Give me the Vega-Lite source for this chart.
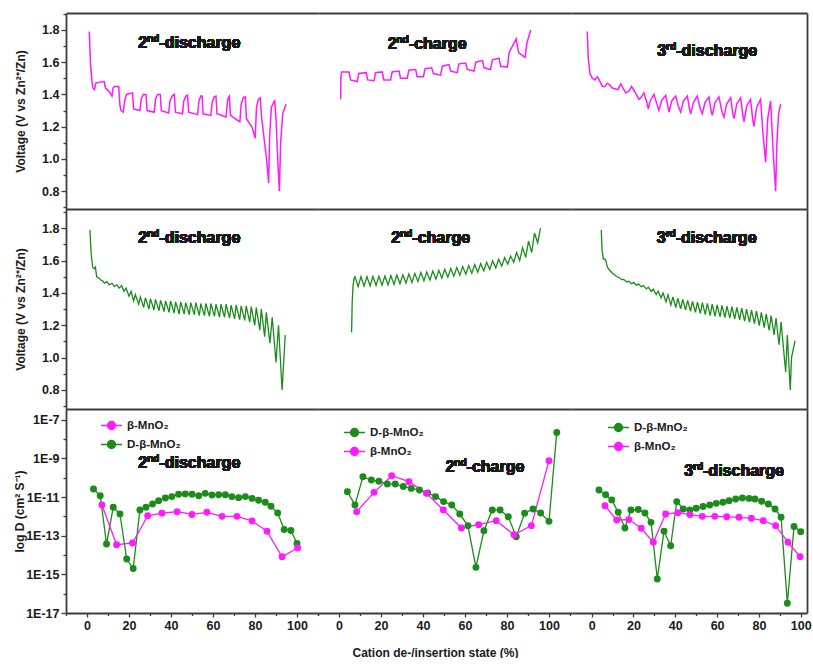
{
"$schema": "https://vega.github.io/schema/vega-lite/v6.json",
"padding": {"left": 13, "top": 13, "right": 0, "bottom": 0},
"config": {
  "view": {"stroke": null},
  "font": "Liberation Sans",
  "axis": {"grid": false, "domainColor": "#3c3c3c", "domainWidth": 1.8, "tickColor": "#3c3c3c", "tickWidth": 1.3, "labelFont": "Liberation Sans", "labelFontSize": 12.5, "labelFontWeight": "bold", "labelColor": "#1a1a1a", "titleFont": "Liberation Sans", "titleFontSize": 12, "titleFontWeight": "bold", "titleColor": "#1a1a1a", "labelOverlap": false},
  "legend": {"labelFont": "Liberation Sans", "labelFontSize": 11.5, "labelFontWeight": "bold", "labelColor": "#1a1a1a"},
  "text": {"font": "Liberation Sans", "fontWeight": "bold", "color": "#1a1a1a", "align": "left", "baseline": "middle", "fontSize": 16}
},
"datasets": {
  "r1c1": [{"x":1.1,"v":1.79},{"x":1.7,"v":1.58},{"x":2.4,"v":1.48},{"x":2.8,"v":1.44},{"x":3.6,"v":1.43},{"x":4.2,"v":1.47},{"x":5.4,"v":1.475},{"x":8.2,"v":1.48},{"x":8.8,"v":1.44},{"x":10.5,"v":1.42},{"x":11.9,"v":1.39},{"x":12.4,"v":1.44},{"x":13.2,"v":1.45},{"x":15.1,"v":1.45},{"x":15.7,"v":1.33},{"x":16.2,"v":1.30},{"x":17.3,"v":1.29},{"x":17.9,"v":1.36},{"x":18.8,"v":1.40},{"x":21.7,"v":1.41},{"x":22.2,"v":1.31},{"x":25.2,"v":1.30},{"x":25.8,"v":1.37},{"x":26.8,"v":1.40},{"x":28.1,"v":1.40},{"x":28.6,"v":1.30},{"x":32.0,"v":1.29},{"x":32.6,"v":1.37},{"x":33.6,"v":1.40},{"x":34.9,"v":1.40},{"x":35.4,"v":1.30},{"x":38.9,"v":1.285},{"x":39.5,"v":1.36},{"x":40.5,"v":1.39},{"x":41.6,"v":1.40},{"x":42.1,"v":1.29},{"x":45.5,"v":1.28},{"x":46.1,"v":1.36},{"x":47.1,"v":1.39},{"x":47.9,"v":1.395},{"x":48.4,"v":1.29},{"x":52.7,"v":1.275},{"x":53.3,"v":1.36},{"x":54.2,"v":1.39},{"x":54.8,"v":1.39},{"x":55.3,"v":1.28},{"x":59.0,"v":1.27},{"x":59.6,"v":1.35},{"x":60.6,"v":1.385},{"x":61.4,"v":1.39},{"x":61.9,"v":1.28},{"x":66.2,"v":1.26},{"x":66.8,"v":1.35},{"x":67.3,"v":1.38},{"x":67.8,"v":1.39},{"x":68.3,"v":1.27},{"x":72.8,"v":1.23},{"x":73.4,"v":1.34},{"x":74.4,"v":1.38},{"x":75.4,"v":1.385},{"x":75.9,"v":1.25},{"x":78.5,"v":1.20},{"x":80.1,"v":1.13},{"x":80.7,"v":1.32},{"x":81.6,"v":1.37},{"x":82.5,"v":1.38},{"x":83.2,"v":1.25},{"x":85.5,"v":1.0},{"x":86.5,"v":0.85},{"x":87.0,"v":1.15},{"x":87.8,"v":1.32},{"x":89.0,"v":1.355},{"x":89.4,"v":1.36},{"x":90.0,"v":1.25},{"x":91.0,"v":0.95},{"x":91.6,"v":0.80},{"x":92.2,"v":1.10},{"x":93.2,"v":1.28},{"x":94.8,"v":1.34}],
  "r1c2": [{"x":0.8,"v":1.37},{"x":0.9,"v":1.50},{"x":1.2,"v":1.54},{"x":4.8,"v":1.54},{"x":5.5,"v":1.49},{"x":8.7,"v":1.48},{"x":9.4,"v":1.53},{"x":13.0,"v":1.535},{"x":13.6,"v":1.49},{"x":16.7,"v":1.485},{"x":17.4,"v":1.535},{"x":20.6,"v":1.54},{"x":21.3,"v":1.49},{"x":24.6,"v":1.49},{"x":25.3,"v":1.54},{"x":28.6,"v":1.545},{"x":29.3,"v":1.50},{"x":32.5,"v":1.50},{"x":33.2,"v":1.55},{"x":36.5,"v":1.555},{"x":37.2,"v":1.51},{"x":40.2,"v":1.51},{"x":41.0,"v":1.56},{"x":44.1,"v":1.565},{"x":45.0,"v":1.53},{"x":48.4,"v":1.52},{"x":49.2,"v":1.575},{"x":52.4,"v":1.585},{"x":53.2,"v":1.545},{"x":56.3,"v":1.535},{"x":57.1,"v":1.59},{"x":60.3,"v":1.595},{"x":61.1,"v":1.555},{"x":64.3,"v":1.545},{"x":65.1,"v":1.60},{"x":68.3,"v":1.61},{"x":69.1,"v":1.565},{"x":72.2,"v":1.555},{"x":73.0,"v":1.615},{"x":76.2,"v":1.625},{"x":77.0,"v":1.575},{"x":80.2,"v":1.57},{"x":81.0,"v":1.66},{"x":84.4,"v":1.745},{"x":85.5,"v":1.66},{"x":88.6,"v":1.63},{"x":89.5,"v":1.72},{"x":91.3,"v":1.80}],
  "r1c3": [{"x":-2.1,"v":1.79},{"x":-1.6,"v":1.62},{"x":-0.8,"v":1.53},{"x":0.3,"v":1.50},{"x":1.5,"v":1.49},{"x":2.7,"v":1.51},{"x":3.6,"v":1.49},{"x":5.1,"v":1.45},{"x":6.3,"v":1.45},{"x":7.5,"v":1.47},{"x":8.6,"v":1.46},{"x":9.9,"v":1.44},{"x":12.6,"v":1.43},{"x":13.9,"v":1.465},{"x":15.0,"v":1.44},{"x":16.3,"v":1.41},{"x":17.8,"v":1.42},{"x":19.1,"v":1.45},{"x":20.5,"v":1.42},{"x":22.6,"v":1.37},{"x":23.6,"v":1.38},{"x":25.0,"v":1.41},{"x":26.2,"v":1.36},{"x":27.1,"v":1.31},{"x":28.0,"v":1.36},{"x":29.8,"v":1.40},{"x":31.2,"v":1.34},{"x":32.2,"v":1.30},{"x":33.4,"v":1.36},{"x":35.4,"v":1.395},{"x":36.4,"v":1.33},{"x":37.0,"v":1.29},{"x":38.3,"v":1.36},{"x":40.2,"v":1.39},{"x":41.6,"v":1.32},{"x":42.6,"v":1.29},{"x":43.9,"v":1.36},{"x":45.8,"v":1.39},{"x":46.8,"v":1.31},{"x":47.4,"v":1.28},{"x":48.7,"v":1.35},{"x":50.5,"v":1.39},{"x":52.0,"v":1.31},{"x":52.9,"v":1.28},{"x":54.2,"v":1.35},{"x":56.1,"v":1.385},{"x":57.1,"v":1.30},{"x":57.7,"v":1.27},{"x":59.0,"v":1.35},{"x":60.9,"v":1.385},{"x":62.4,"v":1.29},{"x":63.3,"v":1.26},{"x":64.6,"v":1.34},{"x":66.5,"v":1.38},{"x":67.5,"v":1.28},{"x":68.1,"v":1.25},{"x":69.4,"v":1.34},{"x":71.3,"v":1.38},{"x":72.3,"v":1.27},{"x":72.9,"v":1.23},{"x":74.2,"v":1.33},{"x":76.0,"v":1.37},{"x":77.0,"v":1.25},{"x":77.6,"v":1.20},{"x":78.9,"v":1.32},{"x":80.8,"v":1.37},{"x":82.0,"v":1.15},{"x":83.2,"v":0.98},{"x":84.2,"v":1.25},{"x":85.6,"v":1.36},{"x":86.8,"v":1.05},{"x":88.0,"v":0.80},{"x":88.6,"v":1.10},{"x":89.4,"v":1.28},{"x":90.4,"v":1.34}],
  "r2c1": [{"x":1.4,"v":1.79},{"x":2.0,"v":1.64},{"x":2.7,"v":1.56},{"x":3.4,"v":1.55},{"x":4.0,"v":1.56},{"x":4.6,"v":1.50},{"x":5.9,"v":1.49},{"x":6.6,"v":1.48},{"x":7.4,"v":1.475},{"x":8.3,"v":1.46},{"x":9.5,"v":1.47},{"x":10.6,"v":1.45},{"x":11.9,"v":1.46},{"x":13.0,"v":1.44},{"x":14.2,"v":1.45},{"x":15.3,"v":1.43},{"x":16.5,"v":1.445},{"x":17.6,"v":1.41},{"x":18.6,"v":1.43},{"x":20.0,"v":1.38},{"x":21.0,"v":1.41},{"x":22.2,"v":1.35},{"x":23.0,"v":1.39},{"x":24.6,"v":1.33},{"x":25.4,"v":1.375},{"x":27.0,"v":1.31},{"x":27.8,"v":1.37},{"x":29.5,"v":1.30},{"x":30.2,"v":1.365},{"x":31.9,"v":1.295},{"x":32.6,"v":1.36},{"x":34.3,"v":1.29},{"x":35.0,"v":1.355},{"x":36.7,"v":1.285},{"x":37.4,"v":1.35},{"x":39.1,"v":1.28},{"x":39.8,"v":1.35},{"x":41.5,"v":1.275},{"x":42.2,"v":1.345},{"x":43.9,"v":1.27},{"x":44.6,"v":1.345},{"x":46.3,"v":1.27},{"x":47.0,"v":1.34},{"x":48.7,"v":1.265},{"x":49.4,"v":1.34},{"x":51.1,"v":1.265},{"x":51.8,"v":1.34},{"x":53.5,"v":1.26},{"x":54.2,"v":1.335},{"x":55.9,"v":1.26},{"x":56.6,"v":1.335},{"x":58.3,"v":1.255},{"x":59.0,"v":1.335},{"x":60.7,"v":1.255},{"x":61.4,"v":1.33},{"x":63.1,"v":1.25},{"x":63.8,"v":1.33},{"x":65.5,"v":1.25},{"x":66.2,"v":1.33},{"x":67.9,"v":1.245},{"x":68.6,"v":1.325},{"x":70.3,"v":1.24},{"x":71.0,"v":1.325},{"x":72.7,"v":1.235},{"x":73.4,"v":1.32},{"x":75.1,"v":1.23},{"x":75.8,"v":1.32},{"x":77.5,"v":1.22},{"x":78.2,"v":1.315},{"x":79.9,"v":1.20},{"x":80.6,"v":1.31},{"x":82.3,"v":1.17},{"x":83.0,"v":1.30},{"x":84.6,"v":1.13},{"x":85.4,"v":1.28},{"x":87.1,"v":1.09},{"x":88.2,"v":1.25},{"x":90.0,"v":0.97},{"x":91.2,"v":1.20},{"x":92.9,"v":0.80},{"x":94.4,"v":1.14}],
  "r2c2": [{"x":6.0,"v":1.157},{"x":6.3,"v":1.35},{"x":6.7,"v":1.445},{"x":7.1,"v":1.485},{"x":7.6,"v":1.500},{"x":9.1,"v":1.440},{"x":10.45,"v":1.500},{"x":11.95,"v":1.442},{"x":13.3,"v":1.501},{"x":14.8,"v":1.444},{"x":16.15,"v":1.502},{"x":17.65,"v":1.446},{"x":19.0,"v":1.503},{"x":20.5,"v":1.448},{"x":21.85,"v":1.505},{"x":23.35,"v":1.450},{"x":24.7,"v":1.507},{"x":26.2,"v":1.453},{"x":27.55,"v":1.510},{"x":29.05,"v":1.457},{"x":30.4,"v":1.513},{"x":31.9,"v":1.461},{"x":33.25,"v":1.517},{"x":34.75,"v":1.465},{"x":36.1,"v":1.521},{"x":37.6,"v":1.470},{"x":38.95,"v":1.526},{"x":40.45,"v":1.475},{"x":41.8,"v":1.530},{"x":43.3,"v":1.480},{"x":44.65,"v":1.535},{"x":46.15,"v":1.486},{"x":47.5,"v":1.540},{"x":49.0,"v":1.492},{"x":50.35,"v":1.546},{"x":51.85,"v":1.498},{"x":53.2,"v":1.551},{"x":54.7,"v":1.504},{"x":56.05,"v":1.557},{"x":57.55,"v":1.510},{"x":58.9,"v":1.563},{"x":60.4,"v":1.516},{"x":61.75,"v":1.569},{"x":63.25,"v":1.522},{"x":64.6,"v":1.575},{"x":66.1,"v":1.528},{"x":67.45,"v":1.582},{"x":68.95,"v":1.536},{"x":70.3,"v":1.590},{"x":71.8,"v":1.545},{"x":73.15,"v":1.599},{"x":74.65,"v":1.555},{"x":76.0,"v":1.608},{"x":77.5,"v":1.566},{"x":78.85,"v":1.618},{"x":80.35,"v":1.578},{"x":81.7,"v":1.628},{"x":83.2,"v":1.590},{"x":84.55,"v":1.650},{"x":86.05,"v":1.600},{"x":87.4,"v":1.680},{"x":88.9,"v":1.620},{"x":90.25,"v":1.720},{"x":91.75,"v":1.650},{"x":93.1,"v":1.770},{"x":94.6,"v":1.710},{"x":95.95,"v":1.800}],
  "r2c3": [{"x":4.6,"v":1.79},{"x":5.0,"v":1.66},{"x":5.6,"v":1.61},{"x":6.2,"v":1.61},{"x":6.8,"v":1.60},{"x":7.5,"v":1.56},{"x":8.3,"v":1.545},{"x":9.7,"v":1.525},{"x":10.65,"v":1.515},{"x":12.05,"v":1.500},{"x":13.0,"v":1.497},{"x":14.4,"v":1.482},{"x":15.35,"v":1.483},{"x":16.75,"v":1.468},{"x":17.7,"v":1.473},{"x":19.1,"v":1.457},{"x":20.05,"v":1.465},{"x":21.45,"v":1.448},{"x":22.4,"v":1.455},{"x":23.8,"v":1.438},{"x":24.75,"v":1.446},{"x":26.15,"v":1.425},{"x":27.1,"v":1.436},{"x":28.5,"v":1.410},{"x":29.45,"v":1.424},{"x":30.85,"v":1.390},{"x":31.8,"v":1.411},{"x":33.2,"v":1.370},{"x":34.15,"v":1.400},{"x":35.55,"v":1.345},{"x":36.5,"v":1.388},{"x":37.9,"v":1.325},{"x":38.85,"v":1.376},{"x":40.25,"v":1.310},{"x":41.2,"v":1.367},{"x":42.6,"v":1.302},{"x":43.55,"v":1.360},{"x":44.95,"v":1.294},{"x":45.9,"v":1.354},{"x":47.3,"v":1.287},{"x":48.25,"v":1.348},{"x":49.65,"v":1.280},{"x":50.6,"v":1.343},{"x":52.0,"v":1.273},{"x":52.95,"v":1.340},{"x":54.35,"v":1.266},{"x":55.3,"v":1.336},{"x":56.7,"v":1.260},{"x":57.65,"v":1.331},{"x":59.05,"v":1.256},{"x":60.0,"v":1.327},{"x":61.4,"v":1.252},{"x":62.35,"v":1.323},{"x":63.75,"v":1.248},{"x":64.7,"v":1.319},{"x":66.1,"v":1.244},{"x":67.05,"v":1.315},{"x":68.45,"v":1.239},{"x":69.4,"v":1.311},{"x":70.8,"v":1.234},{"x":71.75,"v":1.306},{"x":73.15,"v":1.226},{"x":74.1,"v":1.300},{"x":75.5,"v":1.218},{"x":76.45,"v":1.294},{"x":77.85,"v":1.210},{"x":78.8,"v":1.288},{"x":80.2,"v":1.198},{"x":81.15,"v":1.280},{"x":82.55,"v":1.185},{"x":83.5,"v":1.271},{"x":84.9,"v":1.168},{"x":85.85,"v":1.260},{"x":87.25,"v":1.140},{"x":88.2,"v":1.245},{"x":89.6,"v":1.080},{"x":90.6,"v":1.22},{"x":92.8,"v":0.91},{"x":93.6,"v":1.14},{"x":95.0,"v":0.80},{"x":95.6,"v":1.00},{"x":97.3,"v":1.105}],
  "r3c1": [{"x":3.1,"D":2.6e-11,"s":"D-β-MnO₂"},{"x":6.3,"D":1.17e-11,"s":"D-β-MnO₂"},{"x":9.3,"D":3.7e-14,"s":"D-β-MnO₂"},{"x":12.5,"D":2.95e-12,"s":"D-β-MnO₂"},{"x":15.7,"D":1.32e-12,"s":"D-β-MnO₂"},{"x":18.9,"D":6.2e-15,"s":"D-β-MnO₂"},{"x":22.0,"D":2.0e-15,"s":"D-β-MnO₂"},{"x":25.2,"D":2.14e-12,"s":"D-β-MnO₂"},{"x":28.1,"D":2.95e-12,"s":"D-β-MnO₂"},{"x":31.2,"D":4.4e-12,"s":"D-β-MnO₂"},{"x":34.1,"D":6.5e-12,"s":"D-β-MnO₂"},{"x":37.3,"D":8.9e-12,"s":"D-β-MnO₂"},{"x":40.4,"D":1.05e-11,"s":"D-β-MnO₂"},{"x":43.6,"D":1.38e-11,"s":"D-β-MnO₂"},{"x":46.8,"D":1.45e-11,"s":"D-β-MnO₂"},{"x":50.0,"D":1.38e-11,"s":"D-β-MnO₂"},{"x":53.2,"D":1.17e-11,"s":"D-β-MnO₂"},{"x":56.3,"D":1.55e-11,"s":"D-β-MnO₂"},{"x":59.5,"D":1.26e-11,"s":"D-β-MnO₂"},{"x":62.7,"D":1.32e-11,"s":"D-β-MnO₂"},{"x":65.9,"D":1.32e-11,"s":"D-β-MnO₂"},{"x":69.0,"D":1.05e-11,"s":"D-β-MnO₂"},{"x":72.2,"D":9.3e-12,"s":"D-β-MnO₂"},{"x":75.4,"D":1.05e-11,"s":"D-β-MnO₂"},{"x":78.6,"D":8.5e-12,"s":"D-β-MnO₂"},{"x":81.7,"D":6.8e-12,"s":"D-β-MnO₂"},{"x":84.9,"D":5.4e-12,"s":"D-β-MnO₂"},{"x":87.6,"D":3.3e-12,"s":"D-β-MnO₂"},{"x":90.8,"D":1.51e-12,"s":"D-β-MnO₂"},{"x":93.9,"D":2.1e-13,"s":"D-β-MnO₂"},{"x":97.1,"D":1.86e-13,"s":"D-β-MnO₂"},{"x":100.0,"D":3.9e-14,"s":"D-β-MnO₂"},
    {"x":7.1,"D":3.9e-12,"s":"β-MnO₂"},{"x":14.1,"D":3.4e-14,"s":"β-MnO₂"},{"x":21.7,"D":4.2e-14,"s":"β-MnO₂"},{"x":28.9,"D":1.07e-12,"s":"β-MnO₂"},{"x":35.7,"D":1.45e-12,"s":"β-MnO₂"},{"x":42.9,"D":1.74e-12,"s":"β-MnO₂"},{"x":50.0,"D":1.26e-12,"s":"β-MnO₂"},{"x":57.1,"D":1.62e-12,"s":"β-MnO₂"},{"x":64.3,"D":1.0e-12,"s":"β-MnO₂"},{"x":71.4,"D":1.0e-12,"s":"β-MnO₂"},{"x":78.6,"D":5.8e-13,"s":"β-MnO₂"},{"x":85.7,"D":1.7e-13,"s":"β-MnO₂"},{"x":92.9,"D":8.1e-15,"s":"β-MnO₂"},{"x":100.3,"D":2.3e-14,"s":"β-MnO₂"}],
  "r3c2": [{"x":4.0,"D":1.9e-11,"s":"D-β-MnO₂"},{"x":7.6,"D":3.9e-12,"s":"D-β-MnO₂"},{"x":11.4,"D":1.12e-10,"s":"D-β-MnO₂"},{"x":15.4,"D":7.6e-11,"s":"D-β-MnO₂"},{"x":19.0,"D":6.5e-11,"s":"D-β-MnO₂"},{"x":23.0,"D":4.7e-11,"s":"D-β-MnO₂"},{"x":26.8,"D":4.7e-11,"s":"D-β-MnO₂"},{"x":30.6,"D":3.5e-11,"s":"D-β-MnO₂"},{"x":34.4,"D":2.8e-11,"s":"D-β-MnO₂"},{"x":38.3,"D":2.3e-11,"s":"D-β-MnO₂"},{"x":42.2,"D":1.62e-11,"s":"D-β-MnO₂"},{"x":46.0,"D":1.05e-11,"s":"D-β-MnO₂"},{"x":49.8,"D":5.8e-12,"s":"D-β-MnO₂"},{"x":53.7,"D":3.9e-12,"s":"D-β-MnO₂"},{"x":57.5,"D":1.32e-12,"s":"D-β-MnO₂"},{"x":61.4,"D":3.3e-13,"s":"D-β-MnO₂"},{"x":65.2,"D":2.3e-15,"s":"D-β-MnO₂"},{"x":69.0,"D":1.8e-13,"s":"D-β-MnO₂"},{"x":73.0,"D":2.14e-12,"s":"D-β-MnO₂"},{"x":76.7,"D":2.14e-12,"s":"D-β-MnO₂"},{"x":80.6,"D":9.5e-13,"s":"D-β-MnO₂"},{"x":84.4,"D":8.9e-14,"s":"D-β-MnO₂"},{"x":88.4,"D":1.45e-12,"s":"D-β-MnO₂"},{"x":92.4,"D":2.4e-12,"s":"D-β-MnO₂"},{"x":96.0,"D":1.48e-12,"s":"D-β-MnO₂"},{"x":100.0,"D":5.5e-13,"s":"D-β-MnO₂"},{"x":103.7,"D":2.2e-8,"s":"D-β-MnO₂"},
    {"x":8.4,"D":1.74e-12,"s":"β-MnO₂"},{"x":16.7,"D":1.74e-11,"s":"β-MnO₂"},{"x":25.1,"D":1.26e-10,"s":"β-MnO₂"},{"x":33.3,"D":6.2e-11,"s":"β-MnO₂"},{"x":41.6,"D":1.55e-11,"s":"β-MnO₂"},{"x":49.7,"D":2.14e-12,"s":"β-MnO₂"},{"x":58.3,"D":2.5e-13,"s":"β-MnO₂"},{"x":66.5,"D":3.7e-13,"s":"β-MnO₂"},{"x":74.9,"D":6.0e-13,"s":"β-MnO₂"},{"x":83.3,"D":1.12e-13,"s":"β-MnO₂"},{"x":91.6,"D":3.3e-13,"s":"β-MnO₂"},{"x":100.0,"D":7.6e-10,"s":"β-MnO₂"}],
  "r3c3": [{"x":3.5,"D":2.3e-11,"s":"D-β-MnO₂"},{"x":6.7,"D":1.32e-11,"s":"D-β-MnO₂"},{"x":9.6,"D":7.1e-12,"s":"D-β-MnO₂"},{"x":12.7,"D":1.62e-12,"s":"D-β-MnO₂"},{"x":15.9,"D":2.5e-13,"s":"D-β-MnO₂"},{"x":18.8,"D":2.14e-12,"s":"D-β-MnO₂"},{"x":22.3,"D":2.24e-12,"s":"D-β-MnO₂"},{"x":25.5,"D":1.48e-12,"s":"D-β-MnO₂"},{"x":28.4,"D":4.9e-13,"s":"D-β-MnO₂"},{"x":31.4,"D":5.8e-16,"s":"D-β-MnO₂"},{"x":34.6,"D":1.7e-13,"s":"D-β-MnO₂"},{"x":37.8,"D":3.0e-14,"s":"D-β-MnO₂"},{"x":40.7,"D":5.8e-12,"s":"D-β-MnO₂"},{"x":43.8,"D":2.4e-12,"s":"D-β-MnO₂"},{"x":47.0,"D":2.14e-12,"s":"D-β-MnO₂"},{"x":50.0,"D":2.6e-12,"s":"D-β-MnO₂"},{"x":53.3,"D":3.2e-12,"s":"D-β-MnO₂"},{"x":56.5,"D":3.9e-12,"s":"D-β-MnO₂"},{"x":59.6,"D":4.7e-12,"s":"D-β-MnO₂"},{"x":62.8,"D":5.4e-12,"s":"D-β-MnO₂"},{"x":65.7,"D":6.5e-12,"s":"D-β-MnO₂"},{"x":68.9,"D":7.9e-12,"s":"D-β-MnO₂"},{"x":72.1,"D":8.9e-12,"s":"D-β-MnO₂"},{"x":75.3,"D":8.5e-12,"s":"D-β-MnO₂"},{"x":78.1,"D":7.9e-12,"s":"D-β-MnO₂"},{"x":81.3,"D":6.0e-12,"s":"D-β-MnO₂"},{"x":84.5,"D":4.4e-12,"s":"D-β-MnO₂"},{"x":87.7,"D":2.4e-12,"s":"D-β-MnO₂"},{"x":90.6,"D":8.9e-13,"s":"D-β-MnO₂"},{"x":93.6,"D":3.2e-17,"s":"D-β-MnO₂"},{"x":96.8,"D":3.0e-13,"s":"D-β-MnO₂"},{"x":100.0,"D":1.62e-13,"s":"D-β-MnO₂"},
    {"x":6.4,"D":3.5e-12,"s":"β-MnO₂"},{"x":12.0,"D":6.5e-13,"s":"β-MnO₂"},{"x":17.8,"D":6.8e-13,"s":"β-MnO₂"},{"x":23.7,"D":2.4e-13,"s":"β-MnO₂"},{"x":29.5,"D":4.6e-14,"s":"β-MnO₂"},{"x":35.4,"D":1.32e-12,"s":"β-MnO₂"},{"x":41.3,"D":1.55e-12,"s":"β-MnO₂"},{"x":47.0,"D":1.23e-12,"s":"β-MnO₂"},{"x":52.9,"D":1.0e-12,"s":"β-MnO₂"},{"x":58.9,"D":1.0e-12,"s":"β-MnO₂"},{"x":64.6,"D":9.5e-13,"s":"β-MnO₂"},{"x":70.5,"D":8.9e-13,"s":"β-MnO₂"},{"x":76.4,"D":7.9e-13,"s":"β-MnO₂"},{"x":82.1,"D":6.0e-13,"s":"β-MnO₂"},{"x":88.0,"D":3.3e-13,"s":"β-MnO₂"},{"x":93.9,"D":4.6e-14,"s":"β-MnO₂"},{"x":99.7,"D":8.1e-15,"s":"β-MnO₂"}]
},
"columns": 3,
"spacing": 0,
"align": "each",
"bounds": "flush",
"resolve": {"scale": {"x": "independent", "y": "independent", "color": "independent"}, "axis": {"x": "independent", "y": "independent"}, "legend": {"color": "independent"}},
"concat": [
  {"width": 252, "height": 196, "data": {"name": "r1c1"},
   "layer": [
     {"mark": {"type": "line", "color": "#ff1aff", "strokeWidth": 1.5},
      "encoding": {
        "x": {"field": "x", "type": "quantitative", "scale": {"domain": [-10, 110], "nice": false, "zero": false}, "axis": {"orient": "bottom", "labels": false, "ticks": false, "title": null}},
        "y": {"field": "v", "type": "quantitative", "scale": {"domain": [0.69, 1.905], "nice": false, "zero": false}, "axis": {"orient": "left", "values": [0.8, 1.0, 1.2, 1.4, 1.6, 1.8], "format": ".1f", "tickSize": 5, "labelPadding": 2, "title": "Voltage (V vs Zn²⁺/Zn)", "titlePadding": 14}}}},
     {"mark": {"type": "point", "opacity": 0},
      "encoding": {
        "x": {"field": "x", "type": "quantitative", "axis": {"orient": "top", "labels": false, "ticks": false, "title": null}},
        "y": {"field": "v", "type": "quantitative", "axis": {"orient": "left", "values": [0.7, 0.9, 1.1, 1.3, 1.5, 1.7, 1.9], "labels": false, "domain": false, "tickSize": 3, "title": null}}}},
     {"mark": {"type": "text", "dx": -51}, "encoding": {"x": {"datum": 48.7, "axis": null}, "y": {"datum": 1.72, "axis": null}, "text": {"value": "2"}}},
     {"mark": {"type": "text", "dx": -42.1, "dy": -4, "fontSize": 10}, "encoding": {"x": {"datum": 48.7, "axis": null}, "y": {"datum": 1.72, "axis": null}, "text": {"value": "nd"}}},
     {"mark": {"type": "text", "dx": -29.9}, "encoding": {"x": {"datum": 48.7, "axis": null}, "y": {"datum": 1.72, "axis": null}, "text": {"value": "-discharge"}}}
   ],
   "resolve": {"axis": {"x": "independent", "y": "independent"}}},
  {"width": 254, "height": 196, "data": {"name": "r1c2"},
   "layer": [
     {"mark": {"type": "line", "color": "#ff1aff", "strokeWidth": 1.5},
      "encoding": {
        "x": {"field": "x", "type": "quantitative", "scale": {"domain": [-10, 110.95], "nice": false, "zero": false}, "axis": {"orient": "bottom", "labels": false, "ticks": false, "title": null}},
        "y": {"field": "v", "type": "quantitative", "scale": {"domain": [0.69, 1.905], "nice": false, "zero": false}, "axis": null}}},
     {"mark": {"type": "point", "opacity": 0},
      "encoding": {
        "x": {"field": "x", "type": "quantitative", "axis": {"orient": "top", "labels": false, "ticks": false, "title": null}},
        "y": {"field": "v", "type": "quantitative", "axis": null}}},
     {"mark": {"type": "text", "dx": -39.5}, "encoding": {"x": {"datum": 42, "axis": null}, "y": {"datum": 1.71, "axis": null}, "text": {"value": "2"}}},
     {"mark": {"type": "text", "dx": -30.6, "dy": -4, "fontSize": 10}, "encoding": {"x": {"datum": 42, "axis": null}, "y": {"datum": 1.71, "axis": null}, "text": {"value": "nd"}}},
     {"mark": {"type": "text", "dx": -18.4}, "encoding": {"x": {"datum": 42, "axis": null}, "y": {"datum": 1.71, "axis": null}, "text": {"value": "-charge"}}}
   ],
   "resolve": {"axis": {"x": "independent", "y": "independent"}}},
  {"width": 235, "height": 196, "data": {"name": "r1c3"},
   "layer": [
     {"mark": {"type": "line", "color": "#ff1aff", "strokeWidth": 1.5},
      "encoding": {
        "x": {"field": "x", "type": "quantitative", "scale": {"domain": [-9.4, 103], "nice": false, "zero": false}, "axis": {"orient": "bottom", "labels": false, "ticks": false, "title": null}},
        "y": {"field": "v", "type": "quantitative", "scale": {"domain": [0.69, 1.905], "nice": false, "zero": false}, "axis": {"orient": "right", "labels": false, "ticks": false, "title": null}}}},
     {"mark": {"type": "point", "opacity": 0},
      "encoding": {
        "x": {"field": "x", "type": "quantitative", "axis": {"orient": "top", "labels": false, "ticks": false, "title": null}},
        "y": {"field": "v", "type": "quantitative", "axis": null}}},
     {"mark": {"type": "text", "dx": -49.9}, "encoding": {"x": {"datum": 55.3, "axis": null}, "y": {"datum": 1.67, "axis": null}, "text": {"value": "3"}}},
     {"mark": {"type": "text", "dx": -41.0, "dy": -4, "fontSize": 10}, "encoding": {"x": {"datum": 55.3, "axis": null}, "y": {"datum": 1.67, "axis": null}, "text": {"value": "rd"}}},
     {"mark": {"type": "text", "dx": -31.0}, "encoding": {"x": {"datum": 55.3, "axis": null}, "y": {"datum": 1.67, "axis": null}, "text": {"value": "-discharge"}}}
   ],
   "resolve": {"axis": {"x": "independent", "y": "independent"}}},
  {"width": 252, "height": 200, "data": {"name": "r2c1"},
   "layer": [
     {"mark": {"type": "line", "color": "#1a8c1a", "strokeWidth": 1.3},
      "encoding": {
        "x": {"field": "x", "type": "quantitative", "scale": {"domain": [-10, 110], "nice": false, "zero": false}, "axis": {"orient": "bottom", "labels": false, "ticks": false, "title": null}},
        "y": {"field": "v", "type": "quantitative", "scale": {"domain": [0.6825, 1.919], "nice": false, "zero": false}, "axis": {"orient": "left", "values": [0.8, 1.0, 1.2, 1.4, 1.6, 1.8], "format": ".1f", "tickSize": 5, "labelPadding": 2, "title": "Voltage (V vs Zn²⁺/Zn)", "titlePadding": 14}}}},
     {"mark": {"type": "point", "opacity": 0},
      "encoding": {
        "x": {"field": "x", "type": "quantitative", "axis": null},
        "y": {"field": "v", "type": "quantitative", "axis": {"orient": "left", "values": [0.7, 0.9, 1.1, 1.3, 1.5, 1.7, 1.9], "labels": false, "domain": false, "tickSize": 3, "title": null}}}},
     {"mark": {"type": "text", "dx": -51}, "encoding": {"x": {"datum": 48.7, "axis": null}, "y": {"datum": 1.74, "axis": null}, "text": {"value": "2"}}},
     {"mark": {"type": "text", "dx": -42.1, "dy": -4, "fontSize": 10}, "encoding": {"x": {"datum": 48.7, "axis": null}, "y": {"datum": 1.74, "axis": null}, "text": {"value": "nd"}}},
     {"mark": {"type": "text", "dx": -29.9}, "encoding": {"x": {"datum": 48.7, "axis": null}, "y": {"datum": 1.74, "axis": null}, "text": {"value": "-discharge"}}}
   ],
   "resolve": {"axis": {"x": "independent", "y": "independent"}}},
  {"width": 254, "height": 200, "data": {"name": "r2c2"},
   "layer": [
     {"mark": {"type": "line", "color": "#1a8c1a", "strokeWidth": 1.3},
      "encoding": {
        "x": {"field": "x", "type": "quantitative", "scale": {"domain": [-10, 110.95], "nice": false, "zero": false}, "axis": {"orient": "bottom", "labels": false, "ticks": false, "title": null}},
        "y": {"field": "v", "type": "quantitative", "scale": {"domain": [0.6825, 1.919], "nice": false, "zero": false}, "axis": null}}},
     {"mark": {"type": "text", "dx": -39.5}, "encoding": {"x": {"datum": 43.7, "axis": null}, "y": {"datum": 1.74, "axis": null}, "text": {"value": "2"}}},
     {"mark": {"type": "text", "dx": -30.6, "dy": -4, "fontSize": 10}, "encoding": {"x": {"datum": 43.7, "axis": null}, "y": {"datum": 1.74, "axis": null}, "text": {"value": "nd"}}},
     {"mark": {"type": "text", "dx": -18.4}, "encoding": {"x": {"datum": 43.7, "axis": null}, "y": {"datum": 1.74, "axis": null}, "text": {"value": "-charge"}}}
   ],
   "resolve": {"axis": {"x": "independent", "y": "independent"}}},
  {"width": 235, "height": 200, "data": {"name": "r2c3"},
   "layer": [
     {"mark": {"type": "line", "color": "#1a8c1a", "strokeWidth": 1.3},
      "encoding": {
        "x": {"field": "x", "type": "quantitative", "scale": {"domain": [-9.4, 103], "nice": false, "zero": false}, "axis": {"orient": "bottom", "labels": false, "ticks": false, "title": null}},
        "y": {"field": "v", "type": "quantitative", "scale": {"domain": [0.6825, 1.919], "nice": false, "zero": false}, "axis": {"orient": "right", "labels": false, "ticks": false, "title": null}}}},
     {"mark": {"type": "text", "dx": -49.9}, "encoding": {"x": {"datum": 55, "axis": null}, "y": {"datum": 1.74, "axis": null}, "text": {"value": "3"}}},
     {"mark": {"type": "text", "dx": -41.0, "dy": -4, "fontSize": 10}, "encoding": {"x": {"datum": 55, "axis": null}, "y": {"datum": 1.74, "axis": null}, "text": {"value": "rd"}}},
     {"mark": {"type": "text", "dx": -31.0}, "encoding": {"x": {"datum": 55, "axis": null}, "y": {"datum": 1.74, "axis": null}, "text": {"value": "-discharge"}}}
   ],
   "resolve": {"axis": {"x": "independent", "y": "independent"}}},
  {"width": 252, "height": 204, "data": {"name": "r3c1"},
   "layer": [
     {"mark": {"type": "line", "strokeWidth": 1.3},
      "encoding": {
        "x": {"field": "x", "type": "quantitative", "scale": {"domain": [-10, 110], "nice": false, "zero": false}, "axis": {"orient": "bottom", "values": [0, 20, 40, 60, 80, 100], "tickSize": 4, "labelPadding": 2, "title": null}},
        "y": {"field": "D", "type": "quantitative", "scale": {"type": "log", "domain": [1e-17, 3.58e-7], "nice": false}, "axis": {"orient": "left", "values": [1e-17, 1e-15, 1e-13, 1e-11, 1e-9, 1e-7], "labelExpr": "'1E' + round(log(datum.value)/LN10)", "tickSize": 5, "labelPadding": 2, "title": "log D (cm² S⁻¹)", "titlePadding": -1}},
        "color": {"field": "s", "type": "nominal", "scale": {"domain": ["β-MnO₂", "D-β-MnO₂"], "range": ["#ff1aff", "#1a8c1a"]},
          "legend": {"title": null, "orient": "none", "legendX": 34, "legendY": 5, "symbolType": "M-1,0L1,0M-0.38,0A0.38,0.38,0,1,1,0.38,0A0.38,0.38,0,1,1,-0.38,0", "symbolSize": 441, "symbolStrokeWidth": 1.4, "labelOffset": 4, "rowPadding": 0, "padding": 0}}}},
     {"mark": {"type": "point", "filled": true, "size": 48, "opacity": 1},
      "encoding": {
        "x": {"field": "x", "type": "quantitative", "axis": null},
        "y": {"field": "D", "type": "quantitative", "axis": null},
        "color": {"field": "s", "type": "nominal",
          "legend": {"title": null, "orient": "none", "legendX": 34, "legendY": 5, "symbolType": "M-1,0L1,0M-0.38,0A0.38,0.38,0,1,1,0.38,0A0.38,0.38,0,1,1,-0.38,0", "symbolSize": 441, "symbolStrokeWidth": 1.4, "labelOffset": 4, "rowPadding": 0, "padding": 0}}}},
     {"mark": {"type": "point", "opacity": 0},
      "encoding": {
        "x": {"field": "x", "type": "quantitative", "axis": {"orient": "bottom", "values": [-10, 10, 30, 50, 70, 90, 110], "labels": false, "domain": false, "tickSize": 2.5, "title": null}},
        "y": {"field": "D", "type": "quantitative", "axis": {"orient": "left", "values": [1e-16, 1e-14, 1e-12, 1e-10, 1e-8], "labels": false, "domain": false, "tickSize": 3, "title": null}}}},
     {"mark": {"type": "text", "dx": -51}, "encoding": {"x": {"datum": 48.7, "axis": null}, "y": {"datum": 5.7e-10, "axis": null}, "text": {"value": "2"}}},
     {"mark": {"type": "text", "dx": -42.1, "dy": -4, "fontSize": 10}, "encoding": {"x": {"datum": 48.7, "axis": null}, "y": {"datum": 5.7e-10, "axis": null}, "text": {"value": "nd"}}},
     {"mark": {"type": "text", "dx": -29.9}, "encoding": {"x": {"datum": 48.7, "axis": null}, "y": {"datum": 5.7e-10, "axis": null}, "text": {"value": "-discharge"}}}
   ],
   "resolve": {"axis": {"x": "independent", "y": "independent"}}},
  {"width": 254, "height": 204, "data": {"name": "r3c2"},
   "layer": [
     {"mark": {"type": "line", "strokeWidth": 1.3},
      "encoding": {
        "x": {"field": "x", "type": "quantitative", "scale": {"domain": [-10, 110.95], "nice": false, "zero": false}, "axis": {"orient": "bottom", "values": [0, 20, 40, 60, 80, 100], "tickSize": 4, "labelPadding": 2, "title": "Cation de-/insertion state (%)", "titleX": 117, "titleY": 34}},
        "y": {"field": "D", "type": "quantitative", "scale": {"type": "log", "domain": [1e-17, 3.58e-7], "nice": false}, "axis": null},
        "color": {"field": "s", "type": "nominal", "scale": {"domain": ["D-β-MnO₂", "β-MnO₂"], "range": ["#1a8c1a", "#ff1aff"]},
          "legend": {"title": null, "orient": "none", "legendX": 25, "legendY": 12, "symbolType": "M-1,0L1,0M-0.38,0A0.38,0.38,0,1,1,0.38,0A0.38,0.38,0,1,1,-0.38,0", "symbolSize": 441, "symbolStrokeWidth": 1.4, "labelOffset": 4, "rowPadding": 0, "padding": 0}}}},
     {"mark": {"type": "point", "filled": true, "size": 48, "opacity": 1},
      "encoding": {
        "x": {"field": "x", "type": "quantitative", "axis": null},
        "y": {"field": "D", "type": "quantitative", "axis": null},
        "color": {"field": "s", "type": "nominal",
          "legend": {"title": null, "orient": "none", "legendX": 25, "legendY": 12, "symbolType": "M-1,0L1,0M-0.38,0A0.38,0.38,0,1,1,0.38,0A0.38,0.38,0,1,1,-0.38,0", "symbolSize": 441, "symbolStrokeWidth": 1.4, "labelOffset": 4, "rowPadding": 0, "padding": 0}}}},
     {"mark": {"type": "point", "opacity": 0},
      "encoding": {
        "x": {"field": "x", "type": "quantitative", "axis": {"orient": "bottom", "values": [-10, 10, 30, 50, 70, 90, 110], "labels": false, "domain": false, "tickSize": 2.5, "title": null}},
        "y": {"field": "D", "type": "quantitative", "axis": null}}},
     {"mark": {"type": "text", "dx": -39.5}, "encoding": {"x": {"datum": 69.5, "axis": null}, "y": {"datum": 3.5e-10, "axis": null}, "text": {"value": "2"}}},
     {"mark": {"type": "text", "dx": -30.6, "dy": -4, "fontSize": 10}, "encoding": {"x": {"datum": 69.5, "axis": null}, "y": {"datum": 3.5e-10, "axis": null}, "text": {"value": "nd"}}},
     {"mark": {"type": "text", "dx": -18.4}, "encoding": {"x": {"datum": 69.5, "axis": null}, "y": {"datum": 3.5e-10, "axis": null}, "text": {"value": "-charge"}}}
   ],
   "resolve": {"axis": {"x": "independent", "y": "independent"}}},
  {"width": 235, "height": 204, "data": {"name": "r3c3"},
   "layer": [
     {"mark": {"type": "line", "strokeWidth": 1.3},
      "encoding": {
        "x": {"field": "x", "type": "quantitative", "scale": {"domain": [-9.4, 103], "nice": false, "zero": false}, "axis": {"orient": "bottom", "values": [0, 20, 40, 60, 80, 100], "tickSize": 4, "labelPadding": 2, "title": null}},
        "y": {"field": "D", "type": "quantitative", "scale": {"type": "log", "domain": [1e-17, 3.58e-7], "nice": false}, "axis": {"orient": "right", "labels": false, "ticks": false, "title": null}},
        "color": {"field": "s", "type": "nominal", "scale": {"domain": ["D-β-MnO₂", "β-MnO₂"], "range": ["#1a8c1a", "#ff1aff"]},
          "legend": {"title": null, "orient": "none", "legendX": 35, "legendY": 7, "symbolType": "M-1,0L1,0M-0.38,0A0.38,0.38,0,1,1,0.38,0A0.38,0.38,0,1,1,-0.38,0", "symbolSize": 441, "symbolStrokeWidth": 1.4, "labelOffset": 4, "rowPadding": 0, "padding": 0}}}},
     {"mark": {"type": "point", "filled": true, "size": 48, "opacity": 1},
      "encoding": {
        "x": {"field": "x", "type": "quantitative", "axis": null},
        "y": {"field": "D", "type": "quantitative", "axis": null},
        "color": {"field": "s", "type": "nominal",
          "legend": {"title": null, "orient": "none", "legendX": 35, "legendY": 7, "symbolType": "M-1,0L1,0M-0.38,0A0.38,0.38,0,1,1,0.38,0A0.38,0.38,0,1,1,-0.38,0", "symbolSize": 441, "symbolStrokeWidth": 1.4, "labelOffset": 4, "rowPadding": 0, "padding": 0}}}},
     {"mark": {"type": "point", "opacity": 0},
      "encoding": {
        "x": {"field": "x", "type": "quantitative", "axis": {"orient": "bottom", "values": [10, 30, 50, 70, 90], "labels": false, "domain": false, "tickSize": 2.5, "title": null}},
        "y": {"field": "D", "type": "quantitative", "axis": null}}},
     {"mark": {"type": "text", "dx": -49.9}, "encoding": {"x": {"datum": 68.1, "axis": null}, "y": {"datum": 2.3e-10, "axis": null}, "text": {"value": "3"}}},
     {"mark": {"type": "text", "dx": -41.0, "dy": -4, "fontSize": 10}, "encoding": {"x": {"datum": 68.1, "axis": null}, "y": {"datum": 2.3e-10, "axis": null}, "text": {"value": "rd"}}},
     {"mark": {"type": "text", "dx": -31.0}, "encoding": {"x": {"datum": 68.1, "axis": null}, "y": {"datum": 2.3e-10, "axis": null}, "text": {"value": "-discharge"}}}
   ],
   "resolve": {"axis": {"x": "independent", "y": "independent"}}}
]
}
